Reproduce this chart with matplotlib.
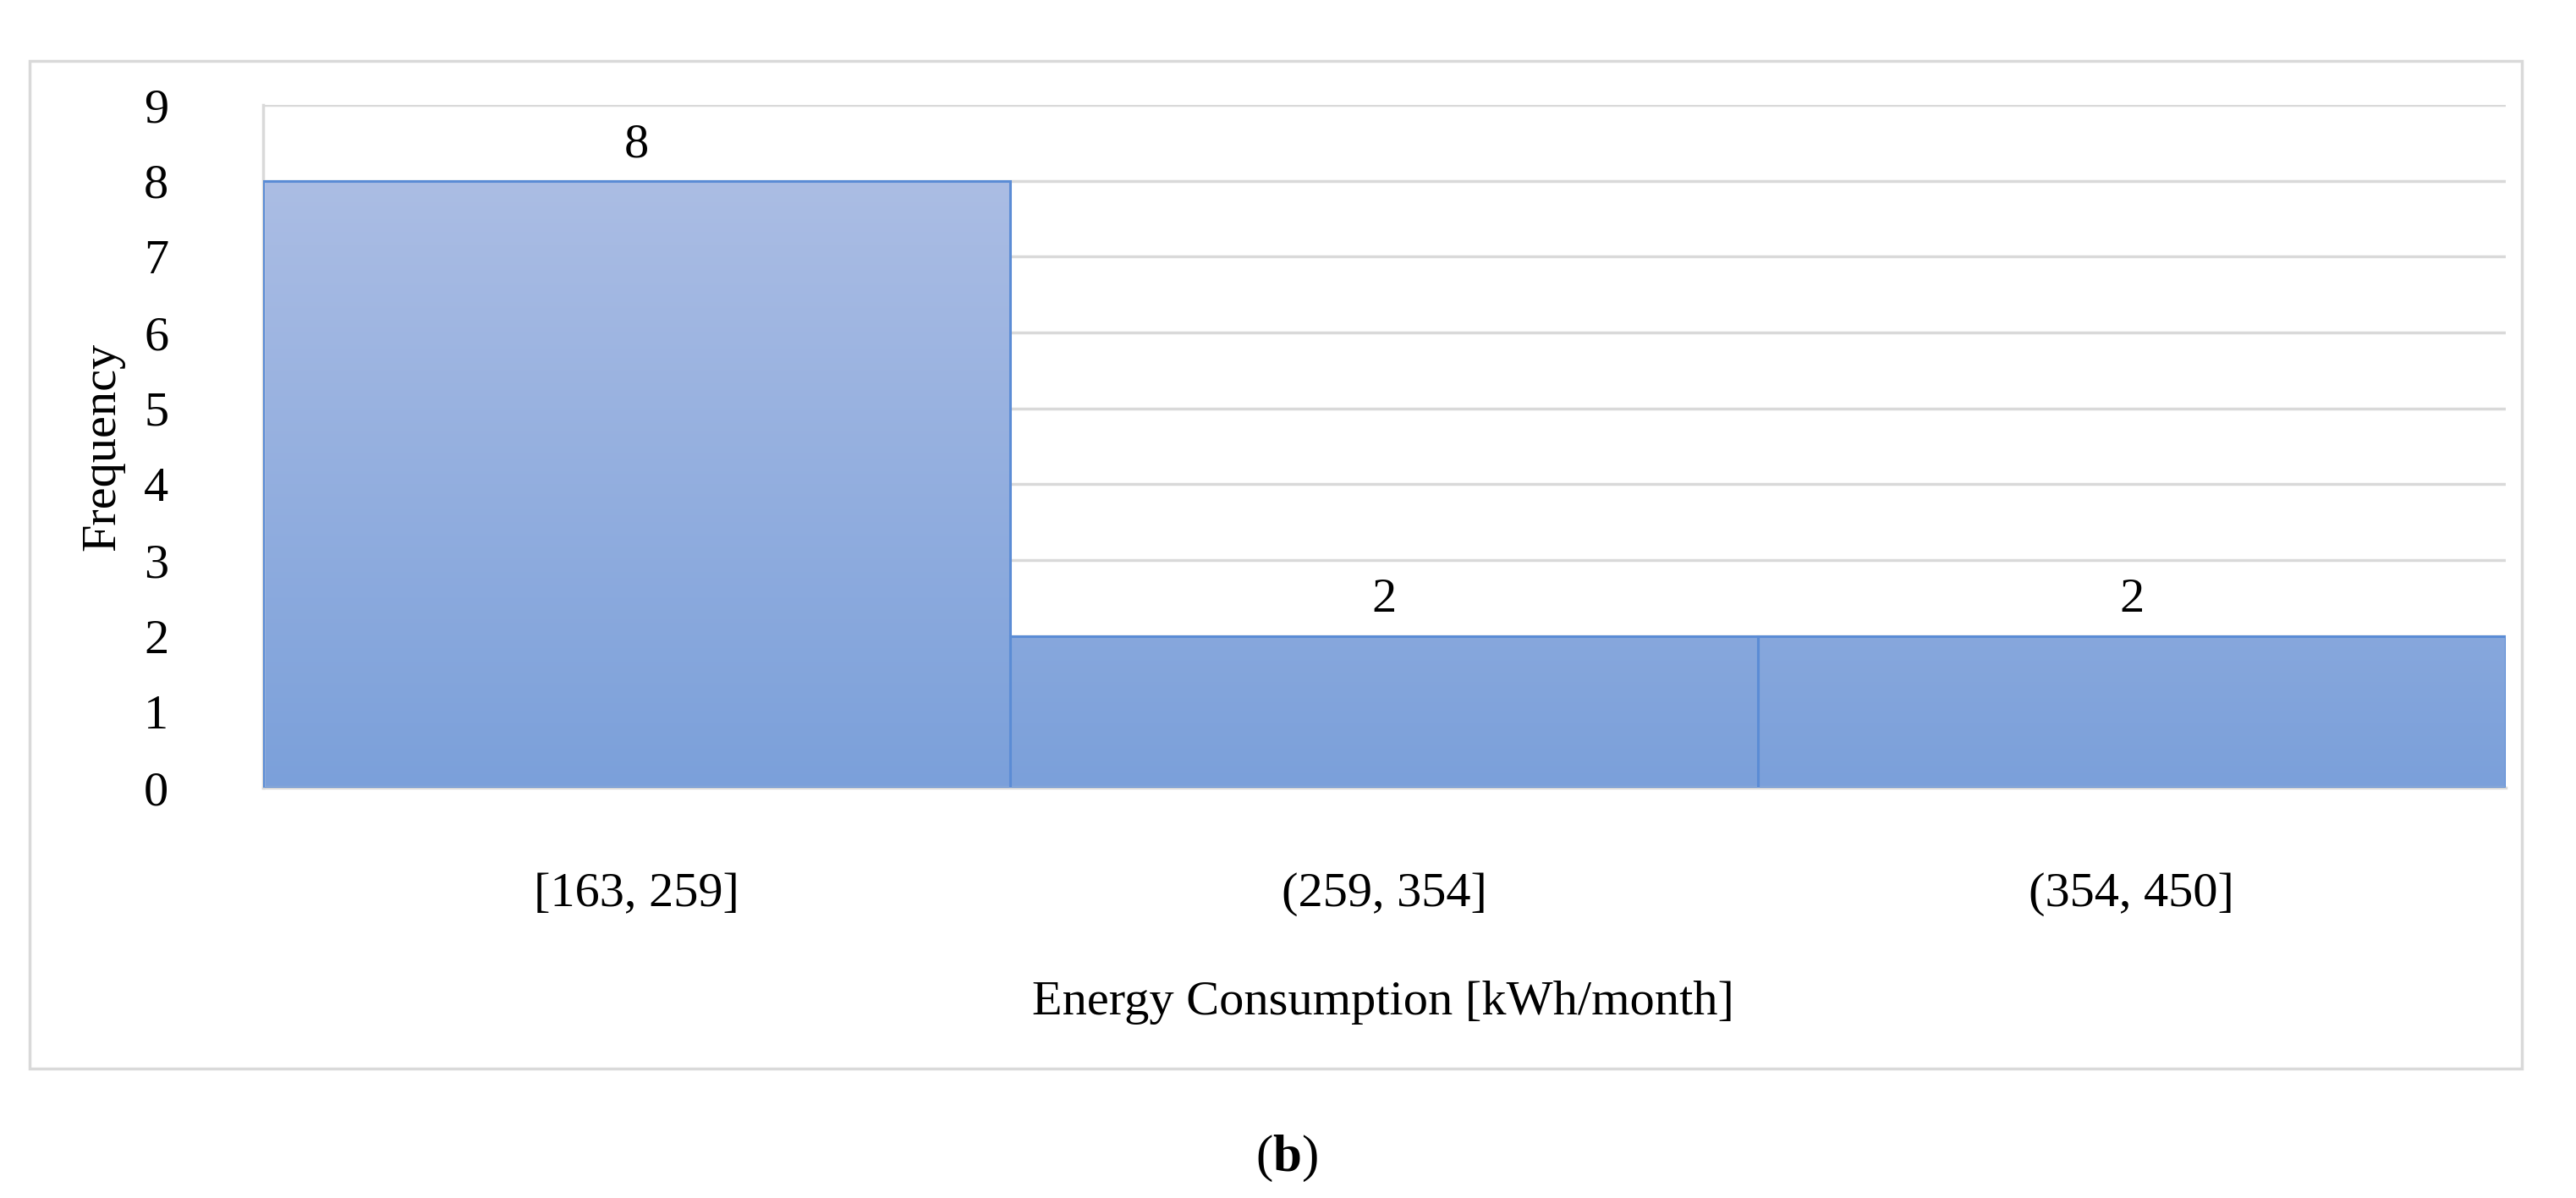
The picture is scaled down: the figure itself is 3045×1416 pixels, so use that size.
import numpy as np
import matplotlib.pyplot as plt
from matplotlib.patches import Rectangle
from matplotlib.colors import LinearSegmentedColormap

# Données de l'histogramme
categories = ['[163, 259]', '(259, 354]', '(354, 450]']
frequencies = [8, 2, 2]
y_ticks = list(range(0, 10))

color_text = '#000000'
color_grid = '#D9D9D9'
color_edge = '#5B8CD5'
color_top = '#ABBDE4'
color_bottom = '#7BA0DA'

plt.rcParams['font.family'] = ['Liberation Serif', 'DejaVu Serif']
plt.rcParams['mathtext.fontset'] = 'custom'
plt.rcParams['mathtext.rm'] = 'Liberation Serif'
plt.rcParams['mathtext.bf'] = 'Liberation Serif:bold'

fs = 42

fig = plt.figure(figsize=(30.45, 14.16), dpi=100)
fig.patch.set_facecolor('white')

# cadre extérieur du graphique
fig.add_artist(Rectangle((0.0115, 0.108), 0.9675, 0.841, transform=fig.transFigure,
                         fill=False, edgecolor=color_grid, linewidth=2.5))

ax = fig.add_axes([0.102, 0.3425, 0.8706, 0.5698])
x = np.arange(len(categories))
bars = ax.bar(x, frequencies, width=1.0, align='edge', color='none',
              edgecolor=color_edge, linewidth=2.2, zorder=3)

# remplissage en dégradé (même dégradé pour toutes les barres)
cmap = LinearSegmentedColormap.from_list('grad', [color_bottom, color_top])
grad = np.linspace(0, 1, 256).reshape(-1, 1)
ymax = max(frequencies)
for b in bars:
    im = ax.imshow(grad, extent=[0, len(categories), 0, ymax],
                   origin='lower', cmap=cmap, aspect='auto', zorder=2)
    im.set_clip_path(b)
    ax.annotate(str(int(b.get_height())), (b.get_x() + b.get_width() / 2, b.get_height()),
                xytext=(0, 12), textcoords='offset points', ha='center', va='bottom',
                fontsize=fs, color=color_text)

ax.set_xlim(0, len(categories))
ax.set_ylim(0, 9)
ax.set_yticks(y_ticks)
ax.set_xticks(x + 0.5)
ax.set_xticklabels(categories)
ax.tick_params(axis='both', length=0, labelsize=fs, colors=color_text)
ax.tick_params(axis='y', pad=80)
ax.tick_params(axis='x', pad=72)
ax.yaxis.grid(True, color=color_grid, linewidth=2.5, zorder=1)
ax.set_axisbelow(True)
for s in ['top', 'right']:
    ax.spines[s].set_visible(False)
for s in ['left', 'bottom']:
    ax.spines[s].set_color(color_grid)
    ax.spines[s].set_linewidth(2.5)

fig.text(0.040, 0.627, 'Frequency', rotation=90, ha='center', va='center', fontsize=fs)
fig.text(0.537, 0.163, 'Energy Consumption [kWh/month]', ha='center', va='center', fontsize=fs)
fig.text(0.4994, 0.033, r'($\mathbf{b}$)', ha='center', va='center', fontsize=44)

fig.savefig('out.png', dpi=100)
